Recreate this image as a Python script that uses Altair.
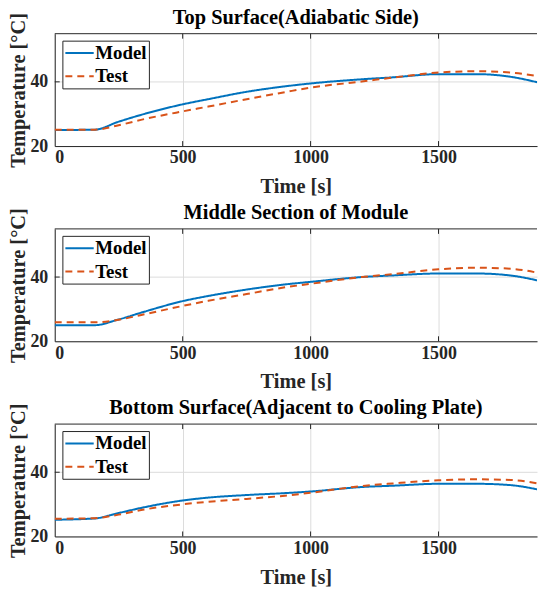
import altair as alt
import pandas as pd

TIME = [0, 155, 250, 350, 500, 600, 750, 900, 1000, 1200, 1320, 1500, 1650, 1780, 1890]

TOP_MODEL = [25.0, 25.1, 27.6, 30.0, 33.0, 34.6, 36.9, 38.6, 39.5, 40.8, 41.4, 42.4, 42.4, 41.6, 39.8]
TOP_TEST = [25.1, 25.1, 26.5, 28.4, 30.8, 32.3, 34.6, 36.8, 38.2, 40.1, 41.3, 42.9, 43.3, 42.9, 41.8]

MID_MODEL = [25.0, 25.0, 26.8, 29.2, 32.5, 34.1, 36.1, 37.7, 38.5, 40.0, 40.5, 41.1, 41.1, 40.5, 38.9]
MID_TEST = [25.9, 25.9, 26.7, 28.4, 31.0, 32.6, 34.7, 36.8, 37.9, 40.0, 40.9, 42.4, 42.9, 42.6, 41.3]

BOT_MODEL = [25.2, 25.6, 27.3, 29.1, 31.2, 32.1, 32.9, 33.5, 34.0, 35.4, 35.8, 36.4, 36.4, 36.0, 34.6]
BOT_TEST = [25.5, 25.7, 26.8, 28.4, 30.0, 30.8, 31.7, 32.7, 33.6, 35.7, 36.5, 37.5, 37.8, 37.6, 36.5]

TITLES = [
    "Top Surface(Adiabatic Side)",
    "Middle Section of Module",
    "Bottom Surface(Adjacent to Cooling Plate)",
]
SERIES = ["Model", "Test"]
X_TICKS = [0, 500, 1000, 1500]
Y_TICKS = [20, 40]
X_DOMAIN = [0, 1885]
Y_DOMAIN = [20, 55]

W, H = 485, 113
FONT = "Liberation Serif"
AX = "#262626"

legend = alt.Legend(
    title=None, orient="none", legendX=7.7, legendY=7,
    labelFont=FONT, labelFontWeight="bold", labelFontSize=19, labelColor="black",
    symbolType="M-1,0H2", symbolSize=361, symbolStrokeWidth=2,
    padding=2, labelOffset=10, rowPadding=2.4,
    strokeColor=AX, fillColor="white",
)

xscale = alt.Scale(domain=X_DOMAIN, nice=False, zero=False)
yscale = alt.Scale(domain=Y_DOMAIN, nice=False, zero=False)
yaxis = alt.Axis(values=Y_TICKS, title="Temperature [°C]", format="d")


def panel(title, model, test, xtitle_pad):
    xaxis = alt.Axis(values=X_TICKS, title="Time [s]", format="d", titlePadding=xtitle_pad)
    n = len(TIME)
    df = pd.DataFrame({
        "t": TIME + TIME,
        "v": model + test,
        "s": [SERIES[0]] * n + [SERIES[1]] * n,
    })
    lines = alt.Chart(df).mark_line(strokeWidth=2, interpolate="monotone", clip=True).encode(
        x=alt.X("t:Q", scale=xscale, axis=xaxis),
        y=alt.Y("v:Q", scale=yscale, axis=yaxis),
        color=alt.Color("s:N", scale=alt.Scale(domain=SERIES, range=["#0072BD", "#D95319"]), legend=legend),
        strokeDash=alt.StrokeDash("s:N", scale=alt.Scale(domain=SERIES, range=[[1, 0], [7, 5]]), legend=legend),
    )
    top_border = alt.Chart(pd.DataFrame({"a": [0]})).mark_rule(color=AX, strokeWidth=1).encode(
        x=alt.value(0), x2=alt.value(W), y=alt.value(0)
    )
    xt = pd.DataFrame({"t": X_TICKS[1:]})
    xticks_b = alt.Chart(xt).mark_rule(color=AX, strokeWidth=1).encode(
        x=alt.X("t:Q", scale=xscale, axis=xaxis), y=alt.value(H), y2=alt.value(H - 5)
    )
    xticks_t = alt.Chart(xt).mark_rule(color=AX, strokeWidth=1).encode(
        x=alt.X("t:Q", scale=xscale, axis=xaxis), y=alt.value(0), y2=alt.value(5)
    )
    yt = pd.DataFrame({"v": Y_TICKS[1:]})
    yticks = alt.Chart(yt).mark_rule(color=AX, strokeWidth=1).encode(
        y=alt.Y("v:Q", scale=yscale, axis=yaxis), x=alt.value(0), x2=alt.value(5)
    )
    return alt.layer(lines, top_border, xticks_b, xticks_t, yticks).properties(
        width=W, height=H,
        title=alt.TitleParams(title, font=FONT, fontWeight="bold", fontSize=20.5, color="black", offset=-16.1),
    )


chart = alt.vconcat(
    panel(TITLES[0], TOP_MODEL, TOP_TEST, 10),
    panel(TITLES[1], MID_MODEL, MID_TEST, 10),
    panel(TITLES[2], BOT_MODEL, BOT_TEST, 10),
    spacing=5.3,
).resolve_legend(color="independent", strokeDash="independent").properties(
    padding={"left": 0, "top": -1.8, "right": 0, "bottom": 0}
).configure_view(stroke=None).configure_axis(
    domainColor=AX, domainWidth=1, ticks=False,
    grid=True, gridColor="#DCDCDC", gridWidth=1,
    labelFont=FONT, labelFontWeight="bold", labelFontSize=18, labelColor=AX,
    titleFont=FONT, titleFontWeight="bold", titleFontSize=20.5, titleColor=AX,
).configure_axisX(labelPadding=3).configure_axisY(labelPadding=7, titlePadding=1.5)

chart.save("out.html", embed_options={"renderer": "svg", "actions": False})
